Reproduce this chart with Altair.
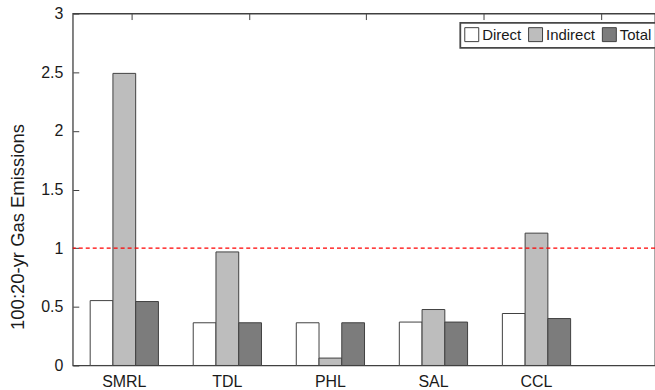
import altair as alt
import pandas as pd

categories = ["SMRL", "TDL", "PHL", "SAL", "CCL"]
series = ["Direct", "Indirect", "Total"]
direct = [0.553, 0.364, 0.364, 0.370, 0.443]
indirect = [2.49, 0.968, 0.063, 0.477, 1.128]
total = [0.545, 0.364, 0.364, 0.370, 0.400]
y_ticks = [0, 0.5, 1, 1.5, 2, 2.5, 3]
top_ticks = [1, 2, 3, 4, 5]
threshold = [1.0]

rows = []
for i, c in enumerate(categories):
    for s, vals in zip(series, [direct, indirect, total]):
        rows.append({"site": c, "type": s, "value": vals[i]})
df = pd.DataFrame(rows)

FONT = "Liberation Sans"
W, H = 584, 353
FRAME = "#404040"
TEXT = "#1a1a1a"

bars = alt.Chart(df).mark_bar(stroke=FRAME, strokeWidth=1).encode(
    x=alt.X("site:N", sort=categories, title=None,
            scale=alt.Scale(paddingInner=0, paddingOuter=0.325, align=0),
            axis=alt.Axis(orient="bottom", offset=-6, tickSize=6, domain=False,
                          labelAngle=0, labelPadding=8, labelFontSize=16,
                          tickColor=FRAME, labelColor=TEXT, labelFont=FONT)),
    xOffset=alt.XOffset("type:N", sort=series,
                        scale=alt.Scale(paddingInner=0, paddingOuter=0.765)),
    y=alt.Y("value:Q", scale=alt.Scale(domain=[0, 3], nice=False, zero=True),
            axis=alt.Axis(values=y_ticks, format="~g", offset=-6, tickSize=6,
                          domain=False, grid=False, labelPadding=10, labelFontSize=16,
                          labelColor=TEXT, tickColor=FRAME, labelFont=FONT,
                          title="100:20-yr Gas Emissions", titleFontSize=18.5,
                          titleFontWeight="normal", titleFont=FONT, titleColor=TEXT,
                          titleX=-61, titleY=213.5, titleAngle=270,
                          titleAlign="center", titleBaseline="middle")),
    color=alt.Color("type:N", sort=series,
                    scale=alt.Scale(domain=series, range=["#ffffff", "#bdbdbd", "#7c7c7c"]),
                    legend=alt.Legend(title=None, orient="none", legendX=388.7, legendY=9.4,
                                      direction="horizontal", symbolType="square",
                                      symbolSize=196, symbolStrokeColor=FRAME,
                                      symbolStrokeWidth=1, labelFontSize=15, labelOffset=3,
                                      columnPadding=4, padding=4, strokeColor="#484848",
                                      fillColor="#ffffff", labelFont=FONT, labelColor=TEXT)),
)

rule = alt.Chart(pd.DataFrame({"y": threshold})).mark_rule(
    color="#ff0000", strokeDash=[4, 3], strokeWidth=1.2
).encode(y="y:Q")

top = alt.Chart(pd.DataFrame({"t": top_ticks})).mark_point(opacity=0).encode(
    x=alt.X("t:Q", scale=alt.Scale(domain=[0.5, 0.5 + W / 117.7], nice=False, zero=False),
            axis=alt.Axis(orient="top", values=top_ticks, labels=False, domain=False,
                          grid=False, offset=-6, tickSize=6, title=None, tickColor=FRAME))
)

chart = alt.layer(bars, rule, top).resolve_scale(x="independent").properties(
    width=W, height=H,
    autosize=alt.AutoSizeParams(type="none"),
    padding={"left": 73, "top": 13, "right": 0, "bottom": 24},
).configure_view(stroke=FRAME, strokeWidth=1.3).configure_legend(strokeWidth=1.8)

chart.save("out.html", embed_options={"renderer": "svg", "actions": False})
